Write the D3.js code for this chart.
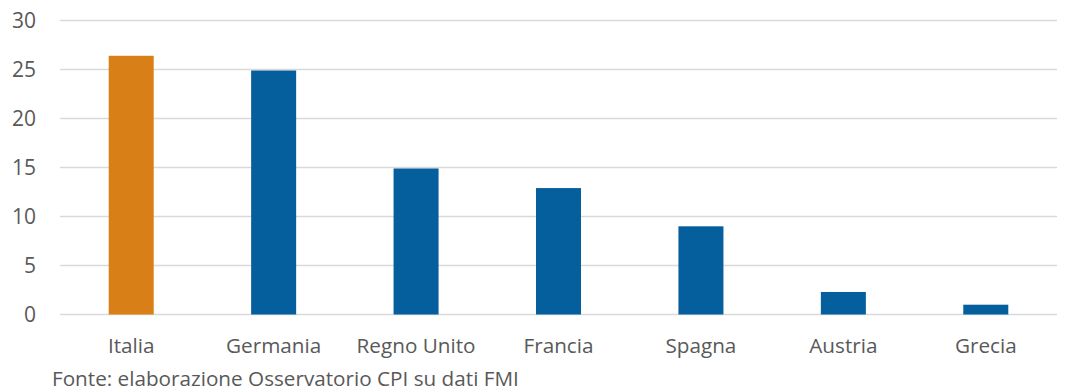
<!DOCTYPE html>
<html>
<head>
<meta charset="utf-8">
<script src="https://cdn.jsdelivr.net/npm/d3@7"></script>
<style>
  body { margin: 0; background: #fff; }
  text { font-family: "Open Sans", sans-serif; fill: #595959; }
</style>
</head>
<body>
<svg id="chart" width="1069" height="392"></svg>
<script>
const countries = ["Italia", "Germania", "Regno Unito", "Francia", "Spagna", "Austria", "Grecia"];
const values = [26.4, 24.9, 14.9, 12.9, 9.0, 2.3, 1.0];
const yTicks = [0, 5, 10, 15, 20, 25, 30];
const source = "Fonte: elaborazione Osservatorio CPI su dati FMI";

const orange = "#D97F17", blue = "#045F9C"; // Italia highlighted

const svg = d3.select("#chart");
const margin = {left: 60, right: 12, top: 20.5, bottom: 77.5};
const width = +svg.attr("width"), height = +svg.attr("height");

const x = d3.scaleBand()
    .domain(countries)
    .range([margin.left, width - margin.right])
    .paddingInner(0.684)
    .paddingOuter(0.342);
const y = d3.scaleLinear()
    .domain([0, 30])
    .range([height - margin.bottom, margin.top]);

// gridlines
svg.append("g")
   .selectAll("line")
   .data(yTicks)
   .enter().append("line")
   .attr("x1", margin.left)
   .attr("x2", width - margin.right)
   .attr("y1", d => y(d))
   .attr("y2", d => y(d))
   .attr("stroke", "#D9D9D9")
   .attr("stroke-width", 1.5);

// y labels
svg.append("g")
   .selectAll("text")
   .data(yTicks)
   .enter().append("text")
   .attr("x", 36)
   .attr("y", d => y(d))
   .attr("dy", "0.36em")
   .attr("text-anchor", "end")
   .attr("font-size", 21)
   .text(d => d);

// bars
svg.append("g")
   .selectAll("rect")
   .data(countries)
   .enter().append("rect")
   .attr("x", d => x(d))
   .attr("width", x.bandwidth())
   .attr("y", (d, i) => y(values[i]))
   .attr("height", (d, i) => y(0) - y(values[i]))
   .attr("fill", (d, i) => i === 0 ? orange : blue);

// x labels
svg.append("g")
   .selectAll("text")
   .data(countries)
   .enter().append("text")
   .attr("x", d => x(d) + x.bandwidth() / 2)
   .attr("y", 353)
   .attr("text-anchor", "middle")
   .attr("font-size", 20.7)
   .text(d => d);

svg.append("text")
   .attr("x", 52)
   .attr("y", 386)
   .attr("font-size", 20.7)
   .text(source);
</script>
</body>
</html>
